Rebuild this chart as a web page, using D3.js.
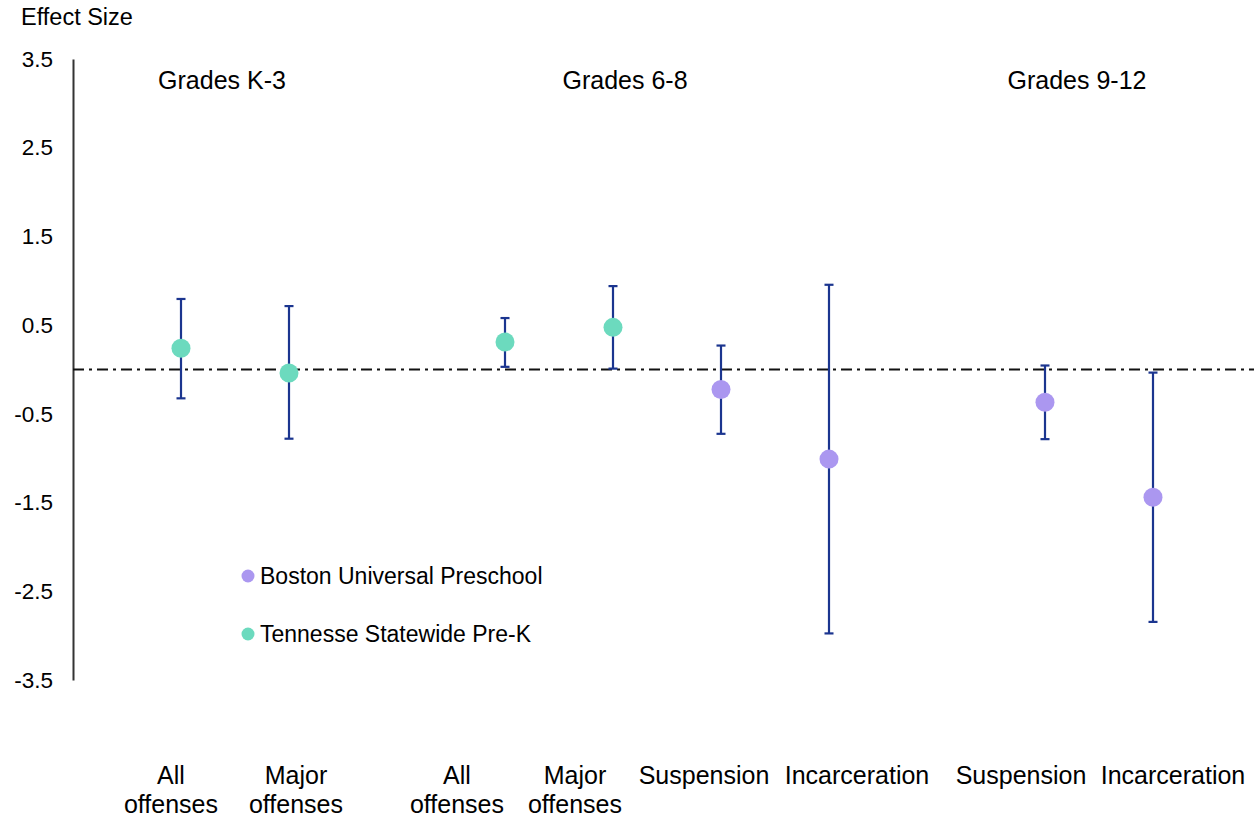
<!DOCTYPE html>
<html><head><meta charset="utf-8">
<script src="https://cdn.jsdelivr.net/npm/d3@7"></script>
<style>body{margin:0;background:#fff;} text{font-family:"Liberation Sans",Arial,sans-serif;fill:#000;}</style>
</head><body>
<svg id="chart" width="1254" height="820"></svg>
<script>
// Data
const categories = ["All offenses","Major offenses","All offenses","Major offenses","Suspension","Incarceration","Suspension","Incarceration"];
const grades = ["Grades K-3","Grades K-3","Grades 6-8","Grades 6-8","Grades 6-8","Grades 6-8","Grades 9-12","Grades 9-12"];
const programs = ["Tennessee","Tennessee","Tennessee","Tennessee","Boston","Boston","Boston","Boston"];
const estimates = [0.24, -0.04, 0.31, 0.475, -0.225, -1.01, -0.37, -1.44];
const upper = [0.795, 0.715, 0.58, 0.94, 0.27, 0.955, 0.045, -0.035];
const lower = [-0.325, -0.78, 0.03, 0.01, -0.725, -2.975, -0.785, -2.845];
const slots = [0, 1, 3, 4, 5, 6, 8, 9];
const groupNames = ["Grades K-3","Grades 6-8","Grades 9-12"];
const yTicks = [3.5, 2.5, 1.5, 0.5, -0.5, -1.5, -2.5, -3.5];
const legendNames = ["Boston Universal Preschool","Tennesse Statewide Pre-K"];

const colors = {Boston:"#ab97f0", Tennessee:"#6cdabe"};
const svg = d3.select("#chart");

const y = d3.scaleLinear().domain([-3.5, 3.5]).range([680, 59]);
const x = d3.scaleLinear().domain([-1, 9]).range([73, 1153]);

// axis
const yAxis = d3.axisLeft(y).tickValues(yTicks).tickSize(0).tickPadding(20).tickFormat(d => d.toFixed(1));
const ga = svg.append("g").attr("transform","translate(73,0)").call(yAxis);
ga.select(".domain").attr("stroke","#333").attr("stroke-width",2);
ga.selectAll(".tick text").attr("font-size",22.5).attr("fill","#000").attr("font-family","Liberation Sans, Arial, sans-serif");

svg.append("text").attr("x",21).attr("y",25).attr("font-size",23.5).text("Effect Size");

// zero line
svg.append("line").attr("x1",73).attr("x2",1254).attr("y1",y(0)).attr("y2",y(0))
  .attr("stroke","#111").attr("stroke-width",2).attr("stroke-dasharray","11,5,3,5");

// group labels
const groupX = [x(0)+41, x(3.5)+66, x(8.5)-22];
groupNames.forEach((g,i)=>{
  svg.append("text").attr("x",groupX[i]).attr("y",89).attr("text-anchor","middle").attr("font-size",25).text(g);
});

// error bars
const data = categories.map((c,i)=>({c, g:grades[i], p:programs[i], est:estimates[i], up:upper[i], lo:lower[i], s:slots[i]}));
const eb = svg.append("g");
data.forEach(d=>{
  const cx = x(d.s);
  eb.append("line").attr("x1",cx).attr("x2",cx).attr("y1",y(d.up)).attr("y2",y(d.lo)).attr("stroke","#1b358f").attr("stroke-width",2.2);
  [d.up,d.lo].forEach(v=>eb.append("line").attr("x1",cx-4.5).attr("x2",cx+4.5).attr("y1",y(v)).attr("y2",y(v)).attr("stroke","#1b358f").attr("stroke-width",2.2));
});
svg.append("g").selectAll("circle").data(data).join("circle")
  .attr("cx",d=>x(d.s)).attr("cy",d=>y(d.est)).attr("r",9.5).attr("fill",d=>colors[d.p]);

// category labels
const labelOffset = [-10, 7, -48, -38, -17, 28, -24, 20];
data.forEach((d,i)=>{
  const parts = d.c.split(" ");
  const t = svg.append("text").attr("text-anchor","middle").attr("font-size",25)
    .attr("x", x(d.s)+labelOffset[i]).attr("y",784);
  if (d.c.indexOf("offenses")>=0) {
    t.append("tspan").attr("x",x(d.s)+labelOffset[i]).attr("dy",0).text(parts[0]);
    t.append("tspan").attr("x",x(d.s)+labelOffset[i]).attr("dy",29).text(parts[1]);
  } else t.text(d.c);
});

// legend
const legColors = [colors.Boston, colors.Tennessee];
legendNames.forEach((n,i)=>{
  const ly = 576 + i*58;
  svg.append("circle").attr("cx",248).attr("cy",ly).attr("r",6.5).attr("fill",legColors[i]);
  svg.append("text").attr("x",260).attr("y",ly+8).attr("font-size",23).text(n);
});
</script>
</body></html>
